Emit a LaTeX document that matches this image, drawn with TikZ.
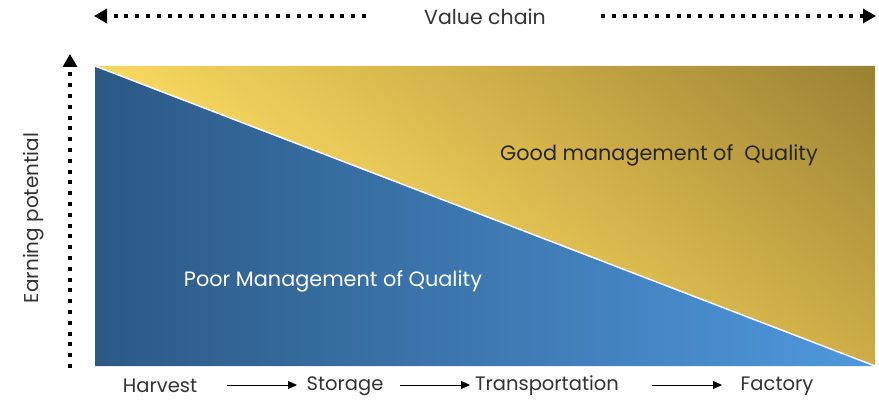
\documentclass[tikz,border=0pt]{standalone}
\usepackage{fontspec}
\setmainfont{Poppins}
\usetikzlibrary{arrows.meta}
\definecolor{yelA}{HTML}{F8D960}
\definecolor{yelM}{HTML}{CFAE48}
\definecolor{yelB}{HTML}{9A8234}
\definecolor{bluA}{HTML}{2C5986}
\definecolor{bluB}{HTML}{4F98DD}
\pgfdeclareverticalshading{yelsh}{100bp}{color(0bp)=(yelA); color(40bp)=(yelA); color(50bp)=(yelM); color(60bp)=(yelB); color(100bp)=(yelB)}
\begin{document}
\begin{tikzpicture}[x=1pt,y=-1pt,
  lbl/.style={font=\fontsize{19.5}{22}\selectfont, text=black!80, inner sep=0pt},
  big/.style={font=\fontsize{20.8}{24}\selectfont, inner sep=0pt},
  dotarrow/.style={line width=4pt, dash pattern=on 4pt off 6.8pt, -{Triangle[length=13pt,width=14pt]}},
  steparrow/.style={line width=1pt, -{Triangle[length=9pt,width=8pt]}}]
\useasboundingbox (0,0) rectangle (879,401);
% panels
\begin{scope}
\clip (95,66) -- (875,66) -- (875,366) -- cycle;
\shade[shading=yelsh, shading angle=-38] (557.7,123) ++(-600,-600) rectangle ++(1200,1200);
\end{scope}
\shade[left color=bluA, right color=bluB] (95,66) -- (875,366) -- (95,366) -- cycle;
\draw[white, line width=1.5pt] (95,66) -- (875,366);
% texts
\node[big, text=black!85] (good) at (659,155) {Good management of\ \ Quality};
\node[big, text=white] (poor) at (333,281) {Poor Management of Quality};
\node[lbl, font=\fontsize{20.5}{24}\selectfont] (vc) at (485,17) {Value chain};
\node[lbl, rotate=90, font=\fontsize{20}{24}\selectfont] (ep) at (34,218) {Earning potential};
% dotted arrows
\coordinate (tlS) at (366,16); \coordinate (tlE) at (94,16);
\coordinate (trS) at (601,16); \coordinate (trE) at (876,16);
\coordinate (lS) at (70,368); \coordinate (lE) at (70,54);
\draw[dotarrow] (tlS) -- (tlE);
\draw[dotarrow] (trS) -- (trE);
\draw[dotarrow] (lS) -- (lE);
% bottom chain
\node[lbl] (harvest) at (160,386) {Harvest};
\node[lbl] (storage) at (345,386) {Storage};
\node[lbl] (transp) at (547,386) {Transportation};
\node[lbl] (factory) at (777,386) {Factory};
\coordinate (a1) at (227,385); \coordinate (b1) at (297,385);
\coordinate (a2) at (400,385); \coordinate (b2) at (470,385);
\coordinate (a3) at (652,385); \coordinate (b3) at (722,385);
\draw[steparrow] (a1) -- (b1);
\draw[steparrow] (a2) -- (b2);
\draw[steparrow] (a3) -- (b3);
\end{tikzpicture}
\end{document}
